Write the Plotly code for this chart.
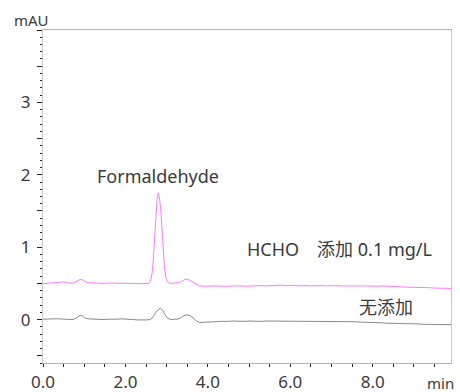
import plotly.graph_objects as go

# ---- data ----
x_spiked = [0.00, 0.10, 0.20, 0.30, 0.40, 0.50, 0.60, 0.70, 0.78, 0.84, 0.90, 0.96, 1.02, 1.10, 1.20,
            1.30, 1.40, 1.50, 1.60, 1.70, 1.80, 1.90, 2.00, 2.10, 2.20, 2.30, 2.40, 2.50, 2.56, 2.61,
            2.65, 2.68, 2.71, 2.74, 2.77, 2.80, 2.83, 2.86, 2.89, 2.92, 2.95, 2.99, 3.04, 3.10, 3.20,
            3.30, 3.38, 3.45, 3.52, 3.58, 3.65, 3.72, 3.80, 3.90, 4.00, 4.10, 4.20, 4.30, 4.40, 4.50,
            4.60, 4.70, 4.80, 4.90, 5.00, 5.10, 5.20, 5.30, 5.40, 5.50, 5.60, 5.70, 5.80, 5.90, 6.00,
            6.10, 6.20, 6.30, 6.40, 6.50, 6.60, 6.70, 6.80, 6.90, 7.00, 7.10, 7.20, 7.30, 7.40, 7.50,
            7.60, 7.70, 7.80, 7.90, 8.00, 8.10, 8.20, 8.30, 8.40, 8.50, 8.60, 8.70, 8.80, 8.90, 9.00,
            9.10, 9.20, 9.30, 9.40, 9.50, 9.60, 9.70, 9.80, 9.90]
y_spiked = [0.495, 0.50, 0.505, 0.51, 0.515, 0.52, 0.51, 0.50, 0.515, 0.54, 0.555, 0.55, 0.525, 0.51, 0.505,
            0.50, 0.505, 0.50, 0.505, 0.50, 0.505, 0.50, 0.50, 0.505, 0.50, 0.495, 0.495, 0.495, 0.50, 0.53,
            0.65, 0.85, 1.10, 1.46, 1.68, 1.75, 1.66, 1.50, 1.22, 0.92, 0.70, 0.56, 0.51, 0.50, 0.50,
            0.51, 0.535, 0.555, 0.555, 0.535, 0.505, 0.48, 0.465, 0.46, 0.465, 0.46, 0.465, 0.46, 0.455, 0.46,
            0.465, 0.47, 0.465, 0.46, 0.465, 0.47, 0.465, 0.47, 0.465, 0.47, 0.465, 0.47, 0.475, 0.47, 0.475,
            0.47, 0.465, 0.47, 0.47, 0.465, 0.47, 0.475, 0.47, 0.465, 0.47, 0.47, 0.465, 0.47, 0.465, 0.465,
            0.47, 0.465, 0.465, 0.46, 0.465, 0.46, 0.465, 0.46, 0.46, 0.455, 0.455, 0.45, 0.45, 0.45, 0.445,
            0.445, 0.45, 0.44, 0.44, 0.435, 0.435, 0.43, 0.43, 0.43]

x_blank = [0.00, 0.10, 0.20, 0.30, 0.40, 0.50, 0.60, 0.70, 0.78, 0.84, 0.90, 0.96, 1.02, 1.10, 1.20,
           1.30, 1.40, 1.50, 1.60, 1.70, 1.80, 1.90, 2.00, 2.10, 2.20, 2.30, 2.40, 2.50, 2.60, 2.68,
           2.74, 2.80, 2.85, 2.90, 2.96, 3.02, 3.10, 3.20, 3.30, 3.38, 3.45, 3.52, 3.58, 3.65, 3.72,
           3.80, 3.90, 4.00, 4.10, 4.20, 4.30, 4.40, 4.50, 4.60, 4.70, 4.80, 4.90, 5.00, 5.10, 5.20,
           5.30, 5.40, 5.50, 5.60, 5.70, 5.80, 5.90, 6.00, 6.10, 6.20, 6.30, 6.40, 6.50, 6.60, 6.70,
           6.80, 6.90, 7.00, 7.10, 7.20, 7.30, 7.40, 7.50, 7.60, 7.70, 7.80, 7.90, 8.00, 8.10, 8.20,
           8.30, 8.40, 8.50, 8.60, 8.70, 8.80, 8.90, 9.00, 9.10, 9.20, 9.30, 9.40, 9.50, 9.60, 9.70,
           9.80, 9.90]
y_blank = [0.005, 0.01, 0.005, 0.01, 0.01, 0.005, 0.01, 0.0, 0.01, 0.04, 0.06, 0.05, 0.02, 0.01, 0.005,
           0.01, 0.005, 0.0, 0.005, 0.0, 0.005, 0.01, 0.01, 0.005, 0.0, -0.005, -0.01, -0.005, 0.0, 0.04,
           0.10, 0.14, 0.155, 0.13, 0.07, 0.02, 0.0, 0.0, 0.01, 0.04, 0.06, 0.065, 0.05, 0.02, -0.02,
           -0.04, -0.04, -0.035, -0.03, -0.03, -0.025, -0.03, -0.025, -0.02, -0.025, -0.02, -0.025, -0.02, -0.025, -0.02,
           -0.025, -0.02, -0.02, -0.025, -0.02, -0.02, -0.025, -0.02, -0.02, -0.025, -0.02, -0.025, -0.03, -0.025, -0.03,
           -0.025, -0.03, -0.025, -0.03, -0.03, -0.025, -0.03, -0.03, -0.03, -0.035, -0.035, -0.04, -0.04, -0.04, -0.045,
           -0.05, -0.05, -0.055, -0.055, -0.055, -0.06, -0.06, -0.06, -0.06, -0.065, -0.065, -0.065, -0.065, -0.07, -0.07,
           -0.07, -0.07]

x_tick_vals = [0.0, 0.5, 1.0, 1.5, 2.0, 2.5, 3.0, 3.5, 4.0, 4.5, 5.0, 5.5, 6.0, 6.5, 7.0, 7.5, 8.0, 8.5, 9.0, 9.5]
x_tick_text = ["0.0", "", "", "", "2.0", "", "", "", "4.0", "", "", "", "6.0", "", "", "", "8.0", "", "", ""]
y_tick_vals = [-0.5, 0.0, 0.5, 1.0, 1.5, 2.0, 2.5, 3.0, 3.5, 4.0]
y_tick_text = ["", "0", "", "1", "", "2", "", "3", "", ""]

FONT = "Noto Sans, Noto Sans CJK JP, sans-serif"
TXT = "#3a3a3a"

fig = go.Figure()
fig.add_trace(go.Scatter(x=x_blank, y=y_blank, mode="lines",
                         line=dict(color="#888888", width=1), showlegend=False))
fig.add_trace(go.Scatter(x=x_spiked, y=y_spiked, mode="lines",
                         line=dict(color="#ff78ff", width=1), showlegend=False))

fig.update_layout(
    width=460, height=392,
    margin=dict(l=43, r=9, t=30, b=29),
    paper_bgcolor="white", plot_bgcolor="white",
    font=dict(family=FONT, size=17, color=TXT),
    xaxis=dict(range=[0, 9.9], showgrid=False, zeroline=False, automargin=False,
               showline=True, linecolor="#b4b4b4", linewidth=1, mirror=True,
               tickmode="array", tickvals=x_tick_vals, ticktext=x_tick_text,
               ticks="outside", ticklen=3, tickcolor="#222", tickwidth=1,
               tickfont=dict(size=17, color=TXT), ticklabelstandoff=1),
    yaxis=dict(range=[-0.6, 4.0], showgrid=False, zeroline=False, automargin=False,
               showline=True, linecolor="#c8c8c8", linewidth=1, mirror=True,
               tickmode="array", tickvals=y_tick_vals, ticktext=y_tick_text,
               ticks="outside", ticklen=5, tickcolor="#222", tickwidth=1,
               tickfont=dict(size=17, color=TXT), ticklabelstandoff=3,
               minor=dict(tickmode="linear", tick0=0, dtick=0.1, ticks="outside",
                          ticklen=2.5, tickcolor="#222", tickwidth=1, showgrid=False)),
)

fig.add_annotation(text="mAU", xref="paper", yref="paper", x=-0.029, y=1.031,
                   xanchor="center", yanchor="middle", showarrow=False,
                   font=dict(size=15, color=TXT))
fig.add_annotation(text="min", xref="paper", yref="paper", x=0.975, y=-0.061,
                   xanchor="center", yanchor="middle", showarrow=False,
                   font=dict(size=15, color=TXT))
fig.add_annotation(text="Formaldehyde", xref="x", yref="y", x=2.79, y=1.99,
                   xanchor="center", yanchor="middle", showarrow=False,
                   font=dict(size=18, color=TXT))
fig.add_annotation(text="HCHO\u3000添加 0.1 mg/L", xref="x", yref="y", x=4.89, y=0.97,
                   xanchor="left", yanchor="middle", showarrow=False,
                   font=dict(size=18, color=TXT))
fig.add_annotation(text="无添加", xref="x", yref="y", x=7.61, y=0.18,
                   xanchor="left", yanchor="middle", showarrow=False,
                   font=dict(size=18, color=TXT))

fig.write_html("out.html")
